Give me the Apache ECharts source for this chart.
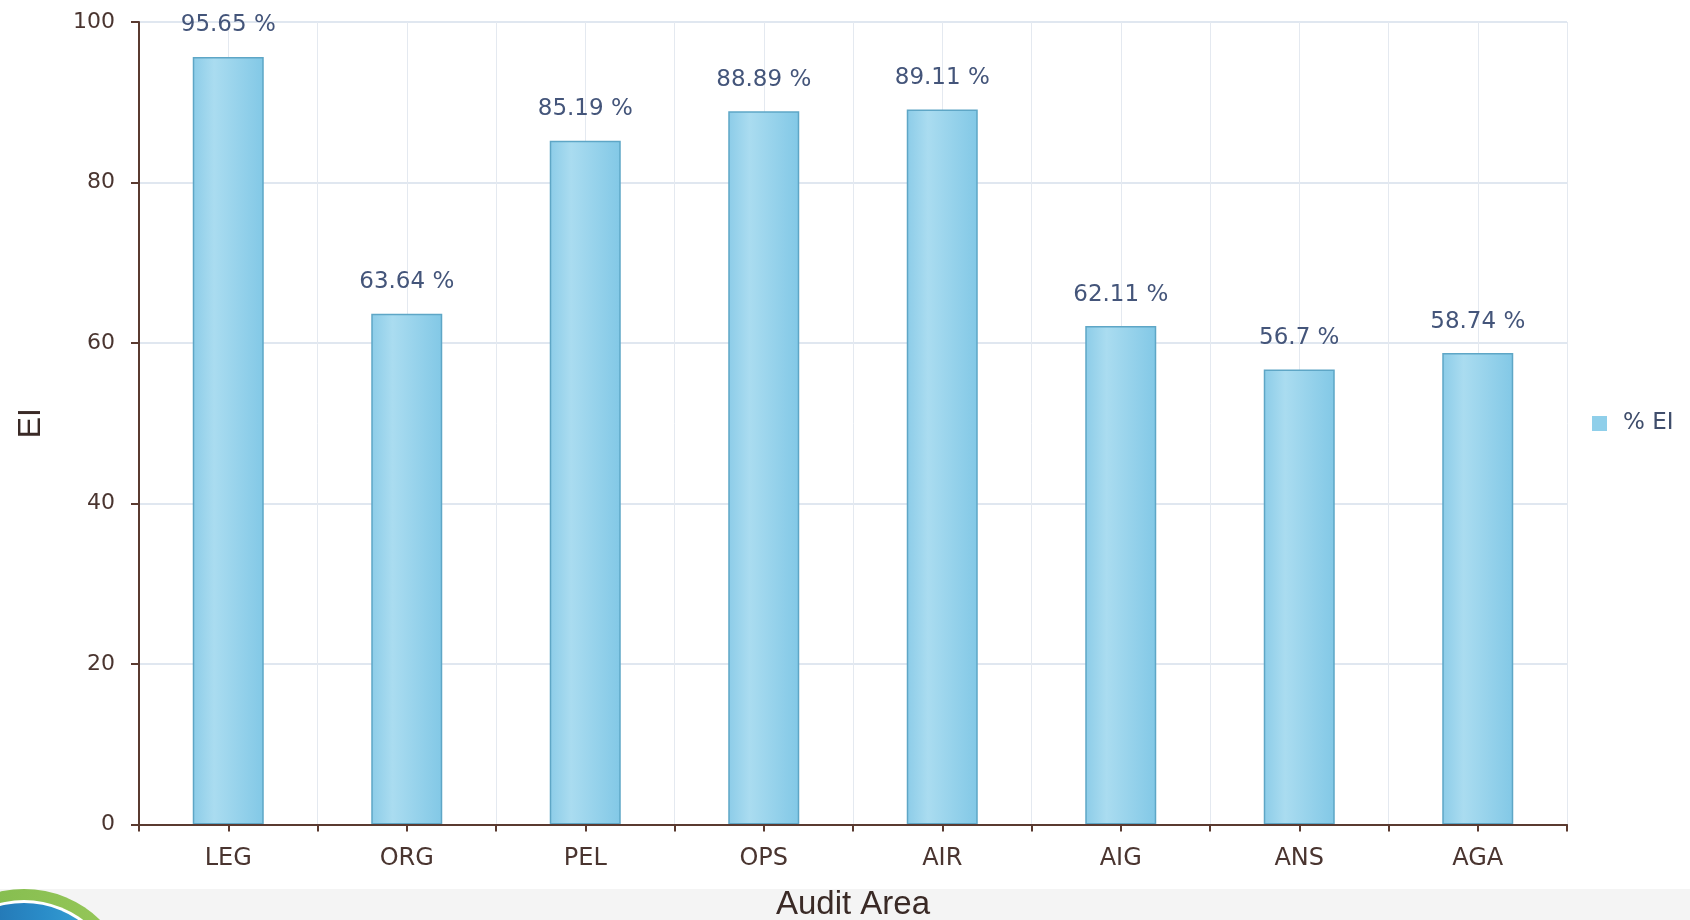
<!DOCTYPE html>
<html>
<head>
<meta charset="utf-8">
<script src="https://cdn.jsdelivr.net/npm/echarts@6/dist/echarts.min.js"></script>
<style>
html,body{margin:0;padding:0;background:#fff;}
#c{width:1690px;height:920px;}
</style>
</head>
<body>
<div id="c"></div>
<script>
const categories = ['LEG', 'ORG', 'PEL', 'OPS', 'AIR', 'AIG', 'ANS', 'AGA'];
const eiValues = [95.65, 63.64, 85.19, 88.89, 89.11, 62.11, 56.7, 58.74];
const seriesName = '% EI';
const xAxisName = 'Audit Area';
const yAxisName = 'EI';
const yTicks = [0, 20, 40, 60, 80, 100];

const brown = '#5a3a30';
const labelBrown = '#4a3530';
const slate = '#44557a';
const tickFont = 'DejaVu Sans';

const chart = echarts.init(document.getElementById('c'), null, {renderer: 'canvas'});
chart.setOption({
  animation: false,
  backgroundColor: '#ffffff',
  grid: {left: 139, right: 123, top: 22, bottom: 95.5, containLabel: false, outerBoundsMode: 'none'},
  legend: {
    data: [seriesName],
    orient: 'vertical',
    left: 1592,
    top: 412,
    padding: 0,
    itemWidth: 15,
    itemHeight: 15,
    itemGap: 10,
    icon: 'rect',
    itemStyle: {borderWidth: 0, color: '#8fcfea'},
    textStyle: {fontFamily: tickFont, fontSize: 23, color: '#3f4d6b', padding: [0, 0, 0, 11]}
  },
  xAxis: [
    {
      type: 'category',
      data: categories,
      position: 'bottom',
      boundaryGap: true,
      axisLine: {show: true, lineStyle: {color: brown, width: 2}},
      axisTick: {show: false},
      splitLine: {show: false},
      axisLabel: {fontFamily: tickFont, fontSize: 24, color: labelBrown, margin: 22},
      name: xAxisName,
      nameLocation: 'middle',
      nameGap: 64,
      nameMoveOverlap: false,
      nameTextStyle: {fontFamily: 'Liberation Sans', fontSize: 33, color: '#3a2a26'},
      z: 5
    },
    {
      type: 'value',
      position: 'bottom',
      min: 0,
      max: categories.length * 2,
      interval: 1,
      axisLine: {show: false},
      axisTick: {show: true, length: 7, lineStyle: {color: brown, width: 2}},
      axisLabel: {show: false},
      splitLine: {show: true, lineStyle: {color: '#e4e9f0', width: 1}}
    }
  ],
  yAxis: {
    type: 'value',
    min: yTicks[0],
    max: yTicks[yTicks.length - 1],
    interval: 20,
    axisLine: {show: true, lineStyle: {color: brown, width: 2}},
    axisTick: {show: true, length: 8, lineStyle: {color: brown, width: 2}},
    axisLabel: {fontFamily: tickFont, fontSize: 22, color: labelBrown, margin: 24},
    splitLine: {show: true, lineStyle: {color: '#d6dfeb', width: 1.5}},
    name: yAxisName,
    nameLocation: 'middle',
    nameGap: 92,
    nameMoveOverlap: false,
    nameTextStyle: {fontFamily: 'Liberation Sans', fontSize: 32, color: '#3a2a26'}
  },
  series: [{
    name: seriesName,
    type: 'bar',
    xAxisIndex: 0,
    data: eiValues,
    barWidth: 71,
    itemStyle: {
      color: new echarts.graphic.LinearGradient(0, 0, 1, 0, [
        {offset: 0, color: '#8ccce8'},
        {offset: 0.3, color: '#aadcf0'},
        {offset: 1, color: '#82c8e6'}
      ]),
      borderColor: '#5ea6c6',
      borderWidth: 1.5
    },
    label: {
      show: true,
      position: 'top',
      distance: 20,
      formatter: p => p.value + ' %',
      fontFamily: tickFont,
      fontSize: 23,
      color: slate
    },
    z: 3
  }],
  graphic: [
    {type: 'rect', z: -10, silent: true, shape: {x: 0, y: 889, width: 1690, height: 31}, style: {fill: '#f4f4f4'}},
    {type: 'circle', z: -9, silent: true, shape: {cx: 24, cy: 998, r: 109},
      style: {fill: new echarts.graphic.LinearGradient(0, 0, 1, 0, [{offset: 0, color: '#7cb84a'}, {offset: 1, color: '#98c85a'}])}},
    {type: 'circle', z: -8, silent: true, shape: {cx: 24, cy: 998, r: 98}, style: {fill: '#ffffff'}},
    {type: 'circle', z: -7, silent: true, shape: {cx: 24, cy: 998, r: 95},
      style: {fill: new echarts.graphic.LinearGradient(0, 0, 1, 0, [{offset: 0, color: '#1c5e9e'}, {offset: 0.6, color: '#2a8cc8'}, {offset: 1, color: '#40aedc'}])}}
  ]
});
</script>
</body>
</html>
